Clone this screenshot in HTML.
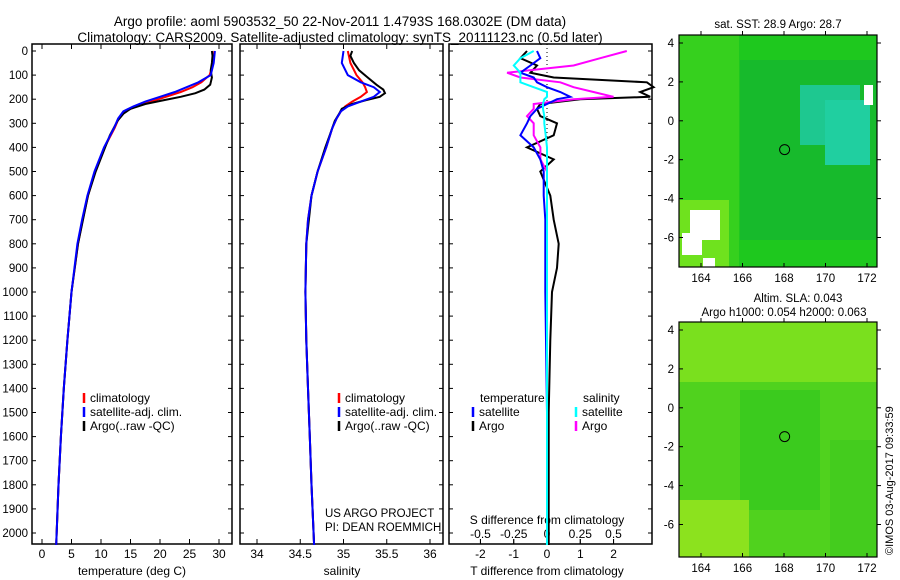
<!DOCTYPE html>
<html><head><meta charset="utf-8"><style>
body{margin:0;background:#fff}
svg{display:block;font-family:"Liberation Sans",sans-serif}
text{fill:#000}
</style></head><body>
<svg id="fig" width="900" height="580" viewBox="0 0 900 580">
<text x="340" y="26" font-size="13.5" text-anchor="middle">Argo profile: aoml 5903532_50 22-Nov-2011 1.4793S 168.0302E (DM data)</text>
<text x="340" y="42" font-size="13.5" text-anchor="middle">Climatology: CARS2009. Satellite-adjusted climatology: synTS_20111123.nc (0.5d later)</text>
<g id="maps"></g>
<g id="plots"></g>
<text transform="translate(893,555) rotate(-90)" font-size="11">©IMOS 03-Aug-2017 09:33:59</text>
</svg>
<script>
const NS="http://www.w3.org/2000/svg";
const G=document.getElementById('plots');
function mk(tag,attrs,parent){const e=document.createElementNS(NS,tag);for(const k in attrs)e.setAttribute(k,attrs[k]);(parent||G).appendChild(e);return e;}
function txt(x,y,s,sz,anchor,parent){const t=mk('text',{x:x,y:y,'font-size':sz||12,'text-anchor':anchor||'middle'},parent);t.textContent=s;return t;}

// ---------- data ----------
const depthTicks=[0,100,200,300,400,500,600,700,800,900,1000,1100,1200,1300,1400,1500,1600,1700,1800,1900,2000];
const tempTicks=[0,5,10,15,20,25,30];
const salTicks=[34,34.5,35,35.5,36];
const tdTicks=[-2,-1,0,1,2];
const sdTicks=[-0.5,-0.25,0,0.25,0.5];

const climDepth=[0,50,100,130,150,170,190,210,230,250,280,320,400,500,600,700,800,1000,1200,1400,1600,1800,2050];
const climTemp=[29.2,29.0,28.4,27.0,25.5,23.5,21.0,18.5,16.0,14.0,13.0,12.3,10.6,9.0,7.8,6.9,6.1,5.0,4.3,3.7,3.2,2.8,2.4];
const satTemp=[29.3,29.1,28.6,26.5,24.5,22.5,20.0,17.5,15.5,13.8,12.9,12.2,10.5,8.9,7.7,6.8,6.0,5.0,4.3,3.7,3.2,2.8,2.4];
const argoDepth=[0,20,50,80,110,140,160,175,190,205,220,240,260,290,350,400,500,600,800,1000,1200,1400,1600,1800,2050];
const argoTemp=[28.8,28.9,28.8,28.6,28.8,28.5,27.5,26.0,23.5,20.5,17.5,15.0,13.8,12.8,11.5,10.7,9.1,7.8,6.1,5.0,4.3,3.7,3.2,2.8,2.4];

const climSal=[35.05,35.08,35.15,35.22,35.25,35.27,35.2,35.1,35.02,34.97,34.92,34.87,34.8,34.7,34.63,34.59,34.57,34.56,34.57,34.59,34.61,34.63,34.66];
const satSal=[35.0,34.98,35.05,35.2,35.35,35.42,35.35,35.2,35.05,34.97,34.92,34.87,34.8,34.7,34.63,34.59,34.57,34.56,34.57,34.59,34.61,34.63,34.66];
const argoSal=[35.1,35.08,35.12,35.18,35.28,35.38,35.46,35.48,35.42,35.25,35.1,34.98,34.95,34.9,34.84,34.79,34.7,34.63,34.57,34.56,34.57,34.59,34.61,34.63,34.66];

const dDepth=[0,30,60,90,110,130,150,170,190,200,220,240,270,300,350,400,450,500,600,700,800,900,1000,1200,1500,1800,2050];
const tdArgo=[-0.6,-0.8,-0.3,-0.5,0.2,3.0,3.2,2.8,3.1,1.0,-0.2,-0.3,-0.2,0.3,0.2,-0.6,0.2,-0.2,0.1,0.2,0.35,0.3,0.15,0.1,0.05,0.05,0.05];
const tdSat=[-0.3,-0.2,-0.5,-0.8,-0.4,-0.3,0.0,0.4,0.7,0.3,0.0,-0.3,-0.5,-0.6,-0.8,-0.4,-0.2,-0.1,-0.1,-0.05,-0.05,-0.05,-0.05,-0.03,0,0,0];
const sdArgo=[0.6,0.4,0.2,-0.3,-0.2,0.1,0.2,0.35,0.5,0.2,-0.1,-0.1,-0.15,-0.1,-0.1,-0.05,-0.05,0,0,0,0,0,0,0,0,0,0];
const sdSat=[-0.1,-0.2,-0.25,-0.2,-0.2,-0.2,-0.1,0.0,0.0,-0.02,-0.03,-0.03,-0.02,-0.02,-0.01,0,0,0,0,0,0,0,0,0,0,0,0];

// ---------- axes ----------
const yTop=44,yBot=544;
const yD=d=>51+d*0.241;
const xT=v=>42+v*5.9;
const xS=v=>257+(v-34)*86.5;
const xTD=v=>547+v*33.3;
const xSD=v=>547+v*133;

function panel(x0,x1,name){
  const r=mk('rect',{x:x0,y:yTop,width:x1-x0,height:yBot-yTop,fill:'none',stroke:'#000','stroke-width':1.5});
  
  
}
function line(xs,ds,xf,color,name,w){
  const p=mk('polyline',{points:xs.map((v,i)=>xf(v).toFixed(1)+','+yD(ds[i]).toFixed(1)).join(' '),fill:'none',stroke:color,'stroke-width':w||2});
  
  
}
function xticks(ticks,xf,y,dir,labY){
  ticks.forEach(t=>{
    mk('line',{x1:xf(t),x2:xf(t),y1:y,y2:y+dir*5,stroke:'#000'});
    if(labY>0){const e=txt(xf(t),labY,String(t),12);
    
    }
  });
}
panel(32,232,'temperature-panel');panel(240,443,'salinity-panel');panel(449,652,'difference-panel');
depthTicks.forEach(d=>{
  [[32,232],[240,443],[449,652]].forEach(([a,b])=>{mk('line',{x1:a,x2:a+4,y1:yD(d),y2:yD(d),stroke:'#000'});mk('line',{x1:b,x2:b-4,y1:yD(d),y2:yD(d),stroke:'#000'});});
  const e=txt(28,yD(d)+4,String(d),11.5,'end');
  
  
});
xticks(tempTicks,xT,yBot,-1,558);xticks(tempTicks,xT,yTop,1,-1);
xticks(salTicks,xS,yBot,-1,558);xticks(salTicks,xS,yTop,1,-1);
xticks(tdTicks,xTD,yBot,-1,558);xticks(sdTicks,xSD,yBot,-1,538);
[['temperature (deg C)',132],['salinity',342],['T difference from climatology',547]].forEach(([s,x])=>{
  const e=txt(x,575,s,12);
  
  
});
{const e=txt(547,524,'S difference from climatology',12);

}
mk('line',{x1:547,x2:547,y1:yTop,y2:yBot,stroke:'#000','stroke-dasharray':'1,3'});

line(climTemp,climDepth,xT,'#f00','temp-climatology');
line(argoTemp,argoDepth,xT,'#000','temp-argo');
line(satTemp,climDepth,xT,'#00f','temp-satellite');
line(climSal,climDepth,xS,'#f00','sal-climatology');
line(argoSal,argoDepth,xS,'#000','sal-argo');
line(satSal,climDepth,xS,'#00f','sal-satellite');
line(tdArgo,dDepth,xTD,'#000','tdiff-argo');
line(sdArgo,dDepth,xSD,'#f0f','sdiff-argo');
line(tdSat,dDepth,xTD,'#00f','tdiff-satellite');
line(sdSat,dDepth,xSD,'#0ff','sdiff-satellite');

function legend(x,y,items,name){
  const g=mk('g',{});
  
  
  items.forEach((it,i)=>{mk('line',{x1:x,x2:x,y1:y+i*14-9,y2:y+i*14+1,stroke:it[1],'stroke-width':2.5},g);txt(x+6,y+i*14,it[0],12,'start',g);});
}
const L=[['climatology','#f00'],['satellite-adj. clim.','#00f'],['Argo(..raw -QC)','#000']];
legend(84,402,L,'temp-legend');legend(339,402,L,'sal-legend');
txt(480,402,'temperature',12,'start');legend(473,416,[['satellite','#00f'],['Argo','#000']],'tdiff-legend');
txt(583,402,'salinity',12,'start');legend(576,416,[['satellite','#0ff'],['Argo','#f0f']],'sdiff-legend');
txt(325,517,'US ARGO PROJECT',11.5,'start');txt(325,531,'PI: DEAN ROEMMICH',11.5,'start');

// ---------- maps ----------
const M=document.getElementById('maps');
function map(y0,y1,name,cols){
  const x0=679,x1=877,lonX=l=>701+(l-164)*20.75;
  const g=mk('g',{},M);
  
  
  mk('rect',{x:x0,y:y0,width:x1-x0,height:y1-y0,fill:cols[0]},g);
  cols.slice(1).forEach(c=>mk('rect',c,g));
  mk('rect',{x:x0,y:y0,width:x1-x0,height:y1-y0,fill:'none',stroke:'#000','stroke-width':1.2},g);
  const yl=a=>y0+8+(4-a)*19.45;
  [4,2,0,-2,-4,-6].forEach(a=>{mk('line',{x1:x0,x2:x0+4,y1:yl(a),y2:yl(a),stroke:'#000'},g);mk('line',{x1:x1,x2:x1+4,y1:yl(a),y2:yl(a),stroke:'#000'},g);txt(674,yl(a)+4,String(a),11.5,'end',g);});
  [164,166,168,170,172].forEach(l=>{mk('line',{x1:lonX(l),x2:lonX(l),y1:y1,y2:y1-4,stroke:'#000'},g);mk('line',{x1:lonX(l),x2:lonX(l),y1:y0,y2:y0-4,stroke:'#000'},g);txt(lonX(l),y1+15,String(l),11.5,'middle',g);});
  mk('circle',{cx:lonX(168.03),cy:yl(-1.48),r:5,fill:'none',stroke:'#000'},g);
}
map(35,267,'sst-map',['#1ec81e',
 {x:679,y:35,width:60,height:232,fill:'#3cd21e','opacity':0.8},
 {x:740,y:60,width:137,height:180,fill:'#14b432','opacity':0.7},
 {x:800,y:85,width:60,height:60,fill:'#1ec890'},
 {x:825,y:100,width:45,height:65,fill:'#20cfa0'},
 {x:679,y:200,width:50,height:67,fill:'#7ee61e','opacity':0.8},
 {x:690,y:210,width:30,height:30,fill:'#fff'},{x:682,y:233,width:20,height:22,fill:'#fff'},{x:703,y:258,width:12,height:9,fill:'#fff'},
 {x:864,y:85,width:9,height:20,fill:'#fff'}
]);
map(322,557,'sla-map',['#50d21e',
 {x:679,y:322,width:198,height:60,fill:'#8ce61e','opacity':0.7},
 {x:740,y:390,width:80,height:120,fill:'#32c81e','opacity':0.7},
 {x:679,y:500,width:70,height:57,fill:'#9be61e','opacity':0.8},
 {x:830,y:440,width:47,height:117,fill:'#3cc81e','opacity':0.6}
]);
txt(778,28,'sat. SST: 28.9 Argo: 28.7',11.5,'middle',M);
txt(798,302,'Altim. SLA: 0.043',11.5,'middle',M);
txt(784,316,'Argo h1000: 0.054 h2000: 0.063',11.5,'middle',M);
</script>
</body></html>
